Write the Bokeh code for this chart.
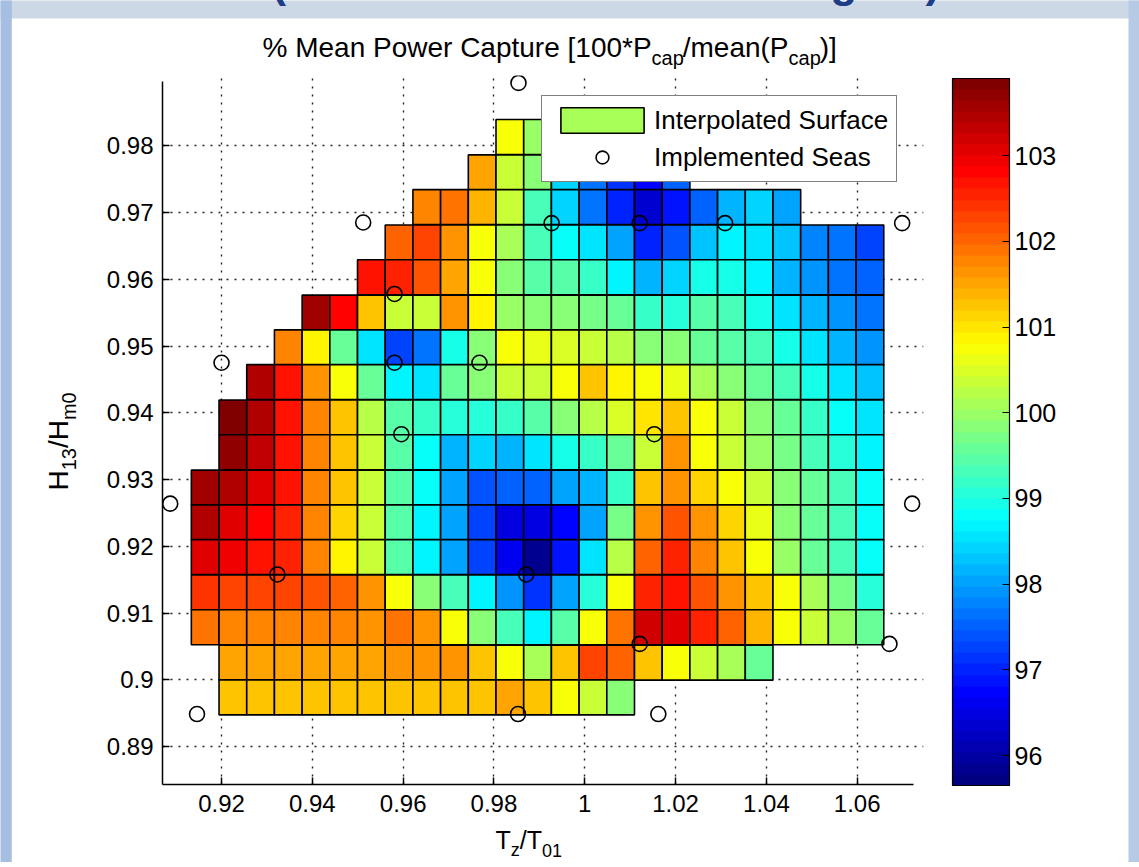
import math
from bokeh.plotting import figure
from bokeh.models import (ColumnDataSource, LinearColorMapper, ColorBar, FixedTicker,
                          Legend, LegendItem, Label, Range1d)
from bokeh.embed import file_html
from bokeh.resources import INLINE

N = None
# ---------------- data ----------------
tz_centres = [0.9164, 0.9225, 0.9286, 0.9347, 0.9408, 0.9469, 0.9530, 0.9591, 0.9652,
              0.9713, 0.9774, 0.9835, 0.9896, 0.9957, 1.0018, 1.0079, 1.0140, 1.0201,
              1.0262, 1.0323, 1.0384, 1.0445, 1.0506, 1.0567, 1.0628]
h_centres = [0.9813, 0.9760, 0.9708, 0.9655, 0.9603, 0.9550, 0.9498, 0.9446, 0.9393,
             0.9341, 0.9288, 0.9236, 0.9184, 0.9131, 0.9079, 0.9026, 0.8974]

pcap_r00 = [N]*11 + [100.8, 100.0, 99.0, 98.2, 97.6, 97.2, 97.5] + [N]*7
pcap_r01 = [N]*10 + [101.5, 100.3, 99.8, 98.4, 97.6, 97.1, 96.8, 97.5] + [N]*7
pcap_r02 = [N]*8 + [101.8, 101.9, 101.4, 100.3, 99.3, 98.4, 97.6, 97.0, 96.4, 96.9, 97.5, 98.2, 98.4, 98.0] + [N]*3
pcap_r03 = [N]*7 + [102.0, 102.3, 101.6, 100.8, 100.1, 99.3, 98.8, 98.6, 98.0, 97.0, 97.4, 98.3, 98.7, 98.6, 98.3, 97.8, 97.6, 97.3]
pcap_r04 = [N]*6 + [102.7, 102.6, 102.2, 101.5, 100.7, 99.9, 99.5, 99.5, 99.2, 98.7, 98.1, 98.4, 99.0, 98.9, 98.7, 98.2, 97.9, 97.7, 97.5]
pcap_r05 = [N]*4 + [103.6, 102.8, 101.3, 100.3, 100.4, 101.6, 100.9, 100.0, 99.9, 99.8, 99.7, 99.6, 99.2, 99.1, 99.5, 99.3, 99.0, 98.6, 98.2, 97.9, 97.6]
pcap_r06 = [N]*3 + [101.8, 100.9, 99.6, 98.6, 97.2, 97.6, 98.9, 99.9, 100.8, 100.6, 100.5, 100.4, 100.2, 99.9, 99.8, 99.6, 99.5, 99.3, 98.9, 98.6, 98.2, 97.9]
pcap_r07 = [N]*2 + [103.4, 102.7, 101.7, 100.7, 99.6, 98.7, 98.6, 99.6, 99.9, 100.3, 100.4, 100.8, 101.3, 100.9, 100.8, 100.6, 100.1, 99.8, 99.6, 99.3, 98.9, 98.6, 98.3]
pcap_r08 = [N] + [103.8, 103.4, 102.7, 101.8, 101.2, 100.2, 99.5, 99.2, 99.1, 99.1, 99.2, 99.5, 99.8, 100.2, 100.5, 101.0, 101.3, 100.7, 100.3, 99.8, 99.6, 99.2, 98.8, 98.5]
pcap_r09 = [N] + [103.7, 103.3, 102.7, 101.8, 101.2, 100.3, 99.5, 98.8, 98.1, 98.4, 98.2, 98.6, 99.0, 99.2, 99.6, 100.4, 101.6, 100.8, 100.4, 100.0, 99.7, 99.3, 99.1, 98.7]
pcap_r10 = [103.6, 103.4, 103.0, 102.7, 101.8, 101.2, 100.3, 99.5, 98.8, 98.0, 97.4, 97.5, 97.5, 98.0, 98.2, 99.2, 101.2, 101.7, 101.1, 100.8, 100.4, 99.8, 99.6, 99.3, 98.8]
pcap_r11 = [103.4, 103.0, 102.8, 102.6, 101.8, 101.1, 100.3, 99.5, 98.7, 98.0, 97.3, 96.5, 96.5, 96.8, 98.0, 99.7, 101.6, 102.2, 101.6, 101.1, 100.6, 99.8, 99.6, 99.3, 98.8]
pcap_r12 = [103.1, 102.9, 102.7, 102.6, 101.8, 100.9, 100.3, 99.4, 98.7, 98.0, 97.3, 96.6, 95.9, 96.9, 98.5, 100.2, 102.0, 102.5, 101.8, 101.2, 100.7, 100.0, 99.6, 99.3, 98.8]
pcap_r13 = [102.4, 102.3, 102.3, 102.3, 102.2, 102.0, 101.6, 100.8, 99.9, 99.3, 98.7, 97.9, 97.1, 98.0, 99.1, 100.8, 102.5, 102.7, 102.1, 101.7, 101.2, 100.7, 100.1, 99.7, 99.1]
pcap_r14 = [101.9, 101.8, 101.8, 101.8, 101.8, 101.8, 101.7, 101.9, 101.6, 100.8, 99.9, 99.3, 98.7, 99.5, 100.8, 101.9, 103.2, 103.1, 102.6, 102.0, 101.4, 100.7, 100.3, 100.0, 99.6]
pcap_r15 = [N] + [101.5, 101.5, 101.5, 101.5, 101.5, 101.5, 101.6, 101.6, 101.6, 101.3, 100.8, 100.1, 101.2, 102.3, 102.0, 101.3, 100.8, 100.4, 100.1, 99.6] + [N]*4
pcap_r16 = [N] + [101.3, 101.3, 101.3, 101.3, 101.3, 101.3, 101.3, 101.3, 101.3, 101.3, 101.5, 101.3, 100.8, 100.4, 99.9] + [N]*9

pcap_rows = [pcap_r00, pcap_r01, pcap_r02, pcap_r03, pcap_r04, pcap_r05, pcap_r06, pcap_r07,
             pcap_r08, pcap_r09, pcap_r10, pcap_r11, pcap_r12, pcap_r13, pcap_r14, pcap_r15, pcap_r16]

seas_tz = [0.9854, 0.9512, 0.9927, 1.0121, 1.0309, 1.0699, 0.9581, 0.9200, 0.9581, 0.9768,
           0.9596, 1.0153, 0.9087, 1.0721, 0.9323, 0.9871, 1.0121, 1.0671, 0.9146, 0.9853, 1.0162]
seas_h = [0.9894, 0.9685, 0.9684, 0.9684, 0.9684, 0.9684, 0.9578, 0.9475, 0.9475, 0.9475,
          0.9368, 0.9368, 0.9264, 0.9264, 0.9158, 0.9158, 0.9054, 0.9054, 0.8949, 0.8949, 0.8949]

x_ticks = [0.92, 0.94, 0.96, 0.98, 1.0, 1.02, 1.04, 1.06]
x_tick_labels = ["0.92", "0.94", "0.96", "0.98", "1", "1.02", "1.04", "1.06"]
y_ticks = [0.89, 0.90, 0.91, 0.92, 0.93, 0.94, 0.95, 0.96, 0.97, 0.98]
y_tick_labels = ["0.89", "0.9", "0.91", "0.92", "0.93", "0.94", "0.95", "0.96", "0.97", "0.98"]
cbar_ticks = [96, 97, 98, 99, 100, 101, 102, 103]
c_low, c_high = 95.65, 103.9
legend_swatch_value = 100.1

# ---------------- style helpers ----------------
FONT = "Liberation Sans"
NB = "\u00a0"
AW = {' ': 278, NB: 278, '%': 889, 'M': 833, 'e': 556, 'a': 556, 'n': 556, 'P': 667, 'o': 556,
      'w': 722, 'r': 333, 'C': 722, 'p': 556, 't': 278, 'u': 556, '[': 278, '1': 556,
      '0': 556, '*': 389, 'c': 500, '/': 278, 'm': 833, '(': 333, ')': 333, ']': 278,
      'T': 611, 'z': 500, 'H': 722, '3': 556}
BASE_SHIFT = 0.36   # empirical offset of the alphabetic baseline, in em


def text_w(s, size):
    return sum(AW.get(ch, 556) for ch in s) * size / 1000.0


def jet(n):
    out = []
    for i in range(n):
        t = i / (n - 1)
        r = min(1.0, max(0.0, 1.5 - abs(4 * t - 3)))
        g = min(1.0, max(0.0, 1.5 - abs(4 * t - 2)))
        b = min(1.0, max(0.0, 1.5 - abs(4 * t - 1)))
        out.append("#%02x%02x%02x" % (int(round(r * 255)), int(round(g * 255)), int(round(b * 255))))
    return out


palette = jet(64)
mapper = LinearColorMapper(palette=palette, low=c_low, high=c_high)

# ---------------- cell geometry from centres ----------------
dx = (tz_centres[-1] - tz_centres[0]) / (len(tz_centres) - 1)
dy = (h_centres[0] - h_centres[-1]) / (len(h_centres) - 1)
L, R, T, B, V = [], [], [], [], []
for yc, row in zip(h_centres, pcap_rows):
    for xc, v in zip(tz_centres, row):
        if v is None:
            continue
        L.append(xc - dx / 2)
        R.append(xc + dx / 2)
        T.append(yc + dy / 2)
        B.append(yc - dy / 2)
        V.append(v)
cells = ColumnDataSource(dict(left=L, right=R, top=T, bottom=B, val=V))
seas = ColumnDataSource(dict(x=seas_tz, y=seas_h))

# ---------------- figure ----------------
x0, x_axis_end, x1 = 0.9070, 1.0724, 1.0746
y0, y_axis_end, y1 = 0.88435, 0.98955, 0.99051
W, H = 1139, 862
FL, FT, FW, FH = 162, 75, 761, 709

p = figure(output_backend="svg", toolbar_location=None,
           x_range=Range1d(x0, x1), y_range=Range1d(y0, y1),
           frame_width=FW, frame_height=FH,
           min_border_left=FL, min_border_right=W - FL - FW, min_border_top=FT,
           min_border_bottom=H - FT - FH)
p.title.visible = False
p.border_fill_color = "white"
p.background_fill_color = "white"
p.outline_line_color = None

for ax in (p.xaxis, p.yaxis):
    ax.axis_line_color = "black"
    ax.axis_line_width = 1.5
    ax.major_tick_line_color = "black"
    ax.major_tick_line_width = 1.5
    ax.major_tick_in = 7
    ax.major_tick_out = 0
    ax.minor_tick_line_color = None
    ax.major_label_text_font = FONT
    ax.major_label_text_font_size = "24px"
    ax.major_label_text_color = "black"

p.xaxis.ticker = FixedTicker(ticks=x_ticks)
p.xaxis.major_label_overrides = dict(zip(x_ticks, x_tick_labels))
p.xaxis.bounds = (x0, x_axis_end)
p.xaxis.major_label_standoff = 10
p.yaxis.ticker = FixedTicker(ticks=y_ticks)
p.yaxis.major_label_overrides = dict(zip(y_ticks, y_tick_labels))
p.yaxis.bounds = (y0, y_axis_end)
p.yaxis.major_label_standoff = 9

p.xgrid.ticker = FixedTicker(ticks=x_ticks)
p.ygrid.ticker = FixedTicker(ticks=y_ticks)
p.xgrid.bounds = (y0, y_axis_end)
p.ygrid.bounds = (x0, x_axis_end)
for g in (p.xgrid, p.ygrid):
    g.grid_line_color = "#222222"
    g.grid_line_width = 1.4
    g.grid_line_dash = "2 6"

surf = p.quad(left="left", right="right", top="top", bottom="bottom", source=cells,
              fill_color={"field": "val", "transform": mapper}, line_color="black", line_width=1.6)
pts = p.scatter(x="x", y="y", source=seas, marker="circle", size=15, fill_alpha=0.0,
                line_color="black", line_width=1.6)

swatch_index = min(range(len(V)), key=lambda i: abs(V[i] - legend_swatch_value))
legend = Legend(items=[LegendItem(label="Interpolated Surface", renderers=[surf], index=swatch_index),
                       LegendItem(label="Implemented Seas", renderers=[pts])],
                location=(379, 602), orientation="vertical", padding=8, spacing=5, margin=0,
                glyph_width=104, glyph_height=32, label_standoff=0, label_height=32,
                label_text_font=FONT, label_text_font_size="26px", label_text_color="black",
                border_line_color="black", border_line_width=1.5,
                background_fill_color="white", background_fill_alpha=1.0)
p.add_layout(legend)

cb = ColorBar(color_mapper=mapper, ticker=FixedTicker(ticks=cbar_ticks), location=(790, -1),
              orientation="vertical", width=57, height=707, padding=0, margin=0,
              bar_line_color="black", bar_line_width=1.2,
              major_tick_line_color="black", major_tick_line_width=1.2, major_tick_in=7, major_tick_out=0,
              minor_tick_line_color=None, label_standoff=5,
              major_label_text_font=FONT, major_label_text_font_size="25px", major_label_text_color="black",
              background_fill_alpha=0.0, border_line_color=None)
p.add_layout(cb)


# ---------------- slide frame behind the chart (thin coloured strips) ----------------
def strip(x, y, w, h, color, side):
    p.add_layout(Label(x=x, y=y, x_units="canvas", y_units="canvas", text=NB,
                       text_font=FONT, text_font_size="1px", text_color=color,
                       text_align="left", text_baseline="top",
                       background_fill_color=color, background_fill_alpha=1.0,
                       padding=dict(left=0, right=w, top=0, bottom=h)), side)


strip(0, 0, 1139, 17, "#cdd8e6", "above")
strip(0, 0, 11, 867, "#a5bee2", "left")
strip(1128, 0, 11, 867, "#b6c9e5", "right")


# ---------------- texts outside the frame (side panels, absolute canvas position) ----------------
def canvas_label(txt, x, y, size, side, bold=False, color="black", vertical=False):
    if vertical:
        x = x - BASE_SHIFT * size
    else:
        y = y - BASE_SHIFT * size
    p.add_layout(Label(x=x, y=y, x_units="canvas", y_units="canvas", text=txt,
                       angle=math.pi / 2 if vertical else 0.0,
                       text_font=FONT, text_font_size=f"{size}px", text_color=color,
                       text_font_style="bold" if bold else "normal",
                       text_align="left", text_baseline="alphabetic"), side)


# title: main line (subscript gaps kept with no-break spaces) + subscripts
t_main, t_sub = 28, 20
piece1, piece2, piece3 = "% Mean Power Capture [100*P", "/mean(P", ")]"
gap = NB * 4
x_start = 262
canvas_label(piece1 + gap + piece2 + gap + piece3, x_start, 57, t_main, "above")
x_sub1 = x_start + text_w(piece1, t_main)
x_sub2 = x_sub1 + text_w(gap, t_main) + text_w(piece2, t_main)
canvas_label("cap", x_sub1, 65, t_sub, "right")
canvas_label("cap", x_sub2, 65, t_sub, "right")

# x label T_z / T_01
xl_main, xl_sub = 25, 18
xx = 495
canvas_label("T", xx, 848, xl_main, "right")
xx += text_w("T", xl_main)
canvas_label("z", xx, 856, xl_sub, "right")
xx += text_w("z", xl_sub)
canvas_label("/T", xx, 848, xl_main, "right")
xx += text_w("/T", xl_main)
canvas_label("01", xx, 856, xl_sub, "right")

# y label H_13 / H_m0 (reads bottom to top)
yl_main, yl_sub = 28, 20
yy = 490
canvas_label("H", 68, yy, yl_main, "left", vertical=True)
yy -= text_w("H", yl_main)
canvas_label("13", 76, yy, yl_sub, "below", vertical=True)
yy -= text_w("13", yl_sub)
canvas_label("/H", 68, yy, yl_main, "left", vertical=True)
yy -= text_w("/H", yl_main)
canvas_label("m0", 76, yy, yl_sub, "left", vertical=True)

# cut-off heading of the slide behind the chart
for txt, bx in (("(", 271), ("g", 830), (")", 925)):
    canvas_label(txt, bx, -3, 44, "right", bold=True, color="#1f3c88")

open("out.html", "w").write(file_html(p, INLINE))
